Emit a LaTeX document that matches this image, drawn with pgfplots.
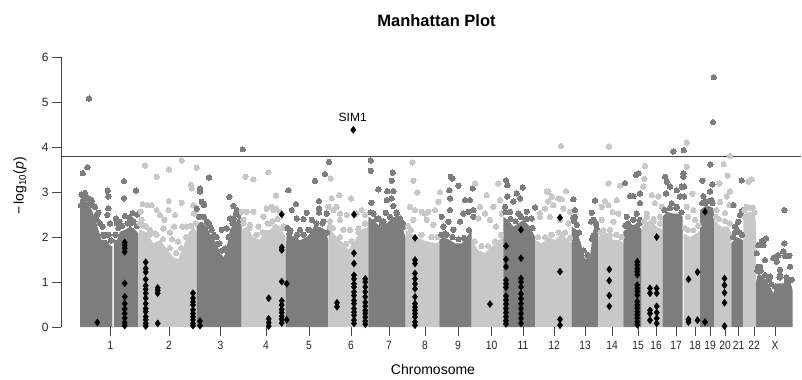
\documentclass[border=0pt]{standalone}
\usepackage{fontspec}
\setmainfont{Liberation Sans}
\newfontfamily\tickfont{Liberation Sans}[FakeStretch=0.86]
\usepackage{pgfplots}
\pgfplotsset{compat=1.18}
\definecolor{dk}{RGB}{125,125,125}
\definecolor{lt}{RGB}{200,200,200}
\definecolor{axc}{RGB}{70,70,70}
\newcommand{\chrom}[3]{%
  \addplot[draw=none, fill=#1] coordinates {#2} \closedcycle;
  \addplot[only marks, mark=*, mark size=2.7bp, color=#1, mark options={fill=#1, draw=#1, line width=0pt}] coordinates {#3};
}
\begin{document}
\begin{tikzpicture}[x=1bp,y=1bp]
\path[use as bounding box] (0,0) rectangle (802,379);
\begin{axis}[
  at={(61bp,52bp)}, anchor=south west,
  scale only axis, width=740bp, height=270bp,
  xmin=61, xmax=801, ymin=0, ymax=6,
  clip=false,
  axis x line*=bottom, axis y line*=left,
  axis line style={draw=none},
  tick align=outside, major tick length=9bp,
  tick style={draw=axc, line width=0.8bp},
  xtick={110.5,169,220.5,266,309,351,389,425,458,491.5,523,554,585,612,638,656,676,695,710,725,738.5,754,775},
  xticklabels={1,2,3,4,5,6,7,8,9,10,11,12,13,14,15,16,17,18,19,20,21,22,X},
  ytick={0,1,2,3,4,5,6},
  yticklabels={0,1,2,3,4,5,6},
  yticklabel style={font=\fontsize{12bp}{14bp}\selectfont, text=black!85},
  xticklabel style={font=\tickfont\fontsize{12bp}{14bp}\selectfont, text=black!85, yshift=-2bp},
]
% chromosome 1
\chrom{dk}{(80,0)(80,2.82)(83.3,2.93)(86.7,2.78)(91.7,2.6)(95,2.41)(98.3,2.16)(101.7,1.93)(106.7,1.93)(110,1.82)(112.4,1.79)(112.5,0)(113.8,0)(113.9,1.95)(117,1.93)(120,2.12)(125,2.16)(130,2.23)(135,2.16)(138.3,2.08)(138.3,0)}
{(82.7,3.42)(87.3,3.55)(89,5.08)(83.3,2.9)(86,2.91)(91.7,2.82)(89.3,2.75)(95,2.67)(98.3,2.54)(96.7,2.38)(102.7,2.23)(107.7,3.03)(108.3,2.9)(108.3,2.64)(107.3,2.49)(110,2.3)(104,2.02)(124,3.24)(124,2.86)(116,2.41)(119.3,2.34)(125,2.47)(129.3,2.43)(132.7,2.53)(136,3.03)(137.3,2.5)(133.3,2.34)(130,2.3)(131.7,2.15)(116.7,2.3)(118.3,2.2)(81,2.7)(84,2.6)
(81.5,2.95)(85,2.98)(88.5,2.85)(93,2.7)(97,2.5)(100,2.3)(103.5,2.05)(108.5,2.05)(111,1.92)(115.5,2.05)(122,2.25)(127.5,2.3)(133,2.35)(137,2.25)}
% chromosome 2
\chrom{lt}{(138.3,0)(138.3,2.1)(140,2.16)(146.7,2.1)(153.3,1.86)(160,1.93)(166.7,1.74)(173.3,1.55)(178.3,1.51)(183.3,1.79)(188.3,2.08)(193.3,2.23)(196.7,2.1)(196.7,0)}
{(145,3.59)(156.7,3.34)(169,3.5)(181.7,3.7)(196.7,3.54)(191,3.16)(191.7,3.08)(142.7,2.73)(147.3,2.71)(151.7,2.71)(140.7,2.56)(168.7,2.8)(181.7,2.76)(156.7,2.6)(160,2.49)(164.3,2.38)(168.3,2.6)(175,2.49)(182.3,2.23)(186.7,2.23)(174,2.23)(193.3,2.71)(196.7,2.6)(194,2.52)(141.7,2.38)(146,2.23)(150,2.16)(155,2.08)(163.3,2.19)(170,2.1)(178,1.9)(172,1.95)
(139.5,2.3)(143.5,2.25)(149.5,2.05)(156.5,2.05)(163,1.95)(170,1.75)(176,1.65)(181,1.75)(186,2.0)(191,2.25)(195.5,2.3)}
% chromosome 3
\chrom{dk}{(196.7,0)(196.7,2.3)(201.7,2.34)(206.7,2.23)(211.7,2.0)(216.7,1.86)(220,1.64)(224,1.55)(227,1.82)(230,2.16)(235,2.34)(241.5,2.38)(241.5,0)}
{(200,3.08)(200,3.01)(201.7,2.78)(203.3,2.75)(204,2.71)(196.7,2.63)(209,3.32)(203.3,2.45)(206.7,2.34)(210,2.23)(211.7,2.16)(213.3,2.0)(216.7,2.0)(219.3,1.86)(221.7,2.16)(226.7,2.19)(230,2.41)(233.3,2.41)(236,2.52)(233.3,2.38)(229.3,2.89)(233.3,2.69)(236.7,2.6)(240,2.38)(242.7,3.95)
(199,2.45)(204,2.45)(209,2.3)(214,2.05)(218,1.85)(222,1.7)(225.5,1.75)(228.5,2.0)(232.5,2.3)(238,2.5)}
% chromosome 4
\chrom{lt}{(241.5,0)(241.5,2.16)(246.7,2.23)(253.3,2.0)(260,1.93)(265,2.16)(270,2.16)(275,2.3)(280,2.23)(285.5,2.0)(285.5,0)}
{(245.3,3.34)(253.3,3.28)(268.3,3.44)(276,2.92)(241.7,2.56)(246.7,2.56)(253.3,2.56)(263.3,2.45)(266.7,2.63)(271.7,2.67)(273.3,2.6)(276,2.63)(280,2.56)(243.3,2.38)(250,2.27)(258.3,2.23)(270,2.3)(278.3,2.16)(283.3,2.23)
(243.5,2.3)(249.5,2.2)(256.5,2.05)(262.5,2.1)(267.5,2.3)(272.5,2.35)(277.5,2.4)(282.5,2.2)}
% chromosome 5
\chrom{dk}{(285.5,0)(285.5,1.64)(286.7,2.08)(293.3,2.0)(300,1.93)(306.7,2.0)(313.3,2.16)(320,2.23)(325,2.16)(328.3,1.93)(328.3,0)}
{(288.3,3.04)(296,2.73)(315,3.25)(325,3.4)(329,3.67)(319,2.8)(319,2.63)(319,2.54)(306.7,2.54)(311.7,2.38)(296.7,2.41)(291.7,2.6)(289.3,2.08)(303.3,2.4)(323.3,2.34)(326.7,2.52)(316,2.19)(300,2.16)(308.3,2.16)(290,1.93)(295,1.97)
(287.5,2.2)(290.5,2.15)(297,2.05)(303.5,2.05)(310,2.15)(316.5,2.3)(322.5,2.3)(327,2.1)}
% chromosome 6
\chrom{lt}{(328.3,0)(328.3,2.23)(336.7,2.0)(343.3,1.86)(348.3,1.71)(355,1.93)(361.7,2.16)(368.3,2.23)(368.3,0)}
{(330.7,3.3)(331.7,2.86)(339.3,2.93)(351,2.86)(328.3,2.67)(333.3,2.6)(340,2.52)(346.7,2.49)(356.7,2.52)(361.7,2.6)(365,2.49)(340,2.38)(336.7,2.67)(343.3,2.16)(350,2.16)(358.3,2.19)(330,2.23)
(330,2.35)(333,2.2)(340,2.0)(346,1.85)(351.5,1.9)(358.5,2.1)(365,2.3)}
% chromosome 7
\chrom{dk}{(368.3,0)(368.3,2.45)(373.3,2.38)(380,2.23)(386.7,2.3)(393.3,2.45)(400,2.38)(405.5,2.0)(405.5,0)}
{(370.7,3.7)(370.7,3.47)(392.7,3.43)(391.7,3.25)(378.3,3.06)(387.3,3.02)(393.3,3.02)(371.3,2.76)(385.7,2.54)(393.3,2.69)(396.7,2.39)(373.3,2.52)(378.3,2.41)(381.7,2.3)(390,2.45)(400,2.41)(403.3,2.23)(386.7,2.82)(391.7,2.86)(396.7,2.52)
(370.5,2.55)(376.5,2.4)(383.5,2.35)(390,2.45)(396.5,2.55)(403,2.3)}
% chromosome 8
\chrom{lt}{(405.5,0)(405.5,2.16)(416.7,2.0)(426.7,1.9)(436.7,1.86)(439.3,1.9)(439.3,0)}
{(412.3,3.66)(413.3,3.25)(417.3,2.99)(410,2.67)(415,2.6)(421.7,2.56)(425,2.52)(413.3,2.38)(428.3,2.56)(435,2.6)(440,3.0)(438.3,2.78)(426.7,2.38)(433.3,2.27)
(408,2.25)(411,2.15)(421.5,2.05)(431.5,2.0)(437.5,2.0)}
% chromosome 9
\chrom{dk}{(439.3,0)(439.3,1.93)(443.3,2.0)(450,1.93)(455,1.86)(461.7,1.86)(466.7,2.0)(471.7,2.16)(471.7,0)}
{(450.7,3.34)(452.3,3.3)(458.3,3.14)(449.3,3.04)(450,2.86)(472.7,3.08)(465,2.82)(470,2.82)(473.3,2.6)(473.3,2.45)(443.3,2.23)(448.3,2.34)(450,2.6)(453.3,2.16)(460,2.34)(463.3,2.52)(468.3,2.56)(441.7,2.45)(445,2.08)
(441.5,2.05)(446.5,2.05)(452.5,2.0)(458.5,1.95)(464,1.98)(469,2.15)}
% chromosome 10
\chrom{lt}{(471.7,0)(471.7,1.93)(478.3,1.71)(485,1.64)(491.7,1.79)(498.3,1.93)(503.3,2.0)(503.3,0)}
{(475,3.19)(486.7,2.93)(498.3,3.19)(493.3,2.67)(480,2.67)(485,2.52)(500,2.82)(478.3,2.41)(490,2.38)(496,2.23)(501.7,2.52)
(474.5,1.9)(481.5,1.8)(488,1.8)(495,1.9)(501,2.05)}
% chromosome 11
\chrom{dk}{(503.3,0)(503.3,2.45)(508.3,2.38)(513.3,2.23)(518.3,2.3)(523.3,2.38)(530,2.23)(535,2.0)(535,0)}
{(506,3.26)(507.3,3.15)(522.7,3.1)(516.7,2.97)(507.3,2.9)(513.3,2.79)(520,2.86)(535,2.66)(505,2.67)(510,2.56)(518.3,2.52)(526.7,2.56)(531.7,2.41)
(505.5,2.55)(510.5,2.4)(515.5,2.35)(521,2.45)(526.5,2.4)(532.5,2.2)}
% chromosome 12
\chrom{lt}{(535,0)(535,1.93)(541.7,1.86)(548.3,2.0)(555,1.93)(561.7,2.08)(568.3,1.93)(571.7,1.86)(571.7,0)}
{(561,4.02)(548.3,3.01)(566,3.02)(558.3,2.86)(545,2.63)(553.3,2.71)(563.3,2.63)(570,2.56)(540,2.45)(550,2.45)(560,2.38)(568.3,2.3)(546.7,3.01)(548.3,2.79)(561.7,2.84)(551.7,2.9)(540,2.53)
(538,2.0)(545,2.0)(551.5,2.05)(558.5,2.1)(565,2.1)(570,1.98)}
% chromosome 13
\chrom{dk}{(571.7,0)(571.7,2.23)(576.7,2.16)(581.7,1.79)(585,1.51)(590,1.56)(593.3,2.16)(598.3,2.23)(598.3,0)}
{(573.3,2.84)(595,2.81)(591.7,2.54)(573.3,2.43)(576.7,2.27)(593.3,2.38)(596.7,2.19)(575,2.6)(591,2.34)(593.3,2.04)(575,2.45)
(574,2.35)(579,2.1)(583.5,1.7)(587.5,1.6)(592,1.95)(596,2.3)}
% chromosome 14
\chrom{lt}{(598.3,0)(598.3,2.0)(606.7,2.1)(613.3,1.93)(620,1.93)(623.3,1.86)(623.3,0)}
{(609,4.01)(608.3,3.19)(620,3.14)(605,2.8)(612.7,2.55)(601.7,2.67)(608.3,2.71)(616.7,2.82)(618.3,2.52)(601.7,2.38)(613.3,2.34)(610,2.16)
(600.5,2.1)(603.5,2.15)(610,2.05)(616.5,2.05)(621.5,2.0)}
% chromosome 15
\chrom{dk}{(623.3,0)(623.3,2.12)(630,2.23)(636.7,2.3)(641.7,2.16)(641.7,0)}
{(625,3.2)(636,3.38)(638.3,3.41)(630,2.91)(633.3,2.91)(640,2.97)(640,2.75)(626.7,2.45)(630,2.23)(636.7,2.52)(640,2.38)
(625.5,2.25)(628,2.3)(633.5,2.38)(639.5,2.3)}
% chromosome 16
\chrom{lt}{(641.7,0)(641.7,2.23)(650,2.38)(656.7,2.23)(662.7,2.16)(662.7,0)}
{(645,3.58)(644.3,3.29)(643.3,3.12)(655,2.75)(651.7,2.93)(658.3,2.9)(661.7,2.67)(646.7,2.52)(653.3,2.34)(660,2.45)
(644,2.35)(647,2.45)(653.5,2.4)(660,2.3)}
% chromosome 17
\chrom{dk}{(662.7,0)(662.7,2.45)(666.7,2.56)(673.3,2.52)(680,2.52)(682.7,2.45)(682.7,0)}
{(673.3,3.9)(665,3.34)(666.7,3.23)(670,3.12)(676.7,3.04)(666,2.97)(676.7,2.67)(681.7,3.12)(680,2.9)(671.7,2.75)(683.7,3.93)(683.3,3.41)(683.3,3.34)(684,3.12)(684,2.9)
(664.5,2.6)(670,2.65)(676.5,2.65)(681.5,2.55)}
% chromosome 18
\chrom{lt}{(683.5,0)(683.5,2.08)(690,2.0)(696.7,2.08)(700,2.16)(700,0)}
{(686.7,4.1)(686.7,3.56)(692.3,2.96)(686.7,2.67)(693.3,2.6)(695,2.38)(688,2.45)
(685,2.2)(688,2.15)(693.5,2.15)(698.5,2.25)}
% chromosome 19
\chrom{dk}{(700,0)(700,2.6)(706.7,2.71)(713.3,2.64)(714,2.5)(714,0)}
{(713.7,5.55)(713,4.55)(710.3,3.61)(702.3,3.25)(712.3,3.17)(710,3.01)(703.3,2.91)(705,2.75)(711.7,2.82)
(702,2.75)(705,2.8)(709.5,2.8)(712.5,2.75)}
% chromosome 20
\chrom{lt}{(714,0)(714,2.38)(721.7,2.23)(728.3,2.23)(731.3,2.08)(731.3,0)}
{(730,3.8)(723.7,3.62)(727.7,3.36)(719.3,3.19)(730,3.01)(720,2.78)(726.7,2.9)(716.7,2.6)(725,2.53)(729.3,2.71)
(716,2.45)(719,2.4)(725,2.35)(729.5,2.3)}
% chromosome 21
\chrom{dk}{(731.3,0)(731.3,1.86)(736.7,2.0)(743.3,1.93)(743.3,0)}
{(741.7,3.26)(733.3,2.71)(740,2.49)(738.3,2.34)(735,2.23)(741.7,2.56)(743.3,2.6)(736.7,2.16)
(733,2.0)(735,2.1)(739.5,2.1)(742,2.05)}
% chromosome 22
\chrom{lt}{(743.3,0)(743.3,2.45)(745,2.52)(750,2.56)(755,2.49)(756,2.3)(756,0)}
{(748.3,3.23)(751.7,3.28)(746.7,2.67)(751.7,2.64)(745,2.45)
(744.5,2.6)(747.5,2.65)(752.5,2.65)(754.5,2.55)}
% chromosome X
\chrom{dk}{(756,0)(756,1.0)(758,1.19)(763.3,1.12)(767,1.0)(770,0.9)(773.3,0.75)(776.7,0.97)(783.3,0.97)(790,1.04)(792.7,0.8)(792.7,0)}
{(758.3,1.82)(763.3,1.9)(784.3,2.6)(784.3,1.86)(778.3,1.6)(785,1.58)(789.3,1.58)(790,1.34)(776.7,1.45)(756.7,1.64)(765,1.49)(770,1.12)(758.3,1.34)(786.7,1.04)(780,1.27)(761.7,1.91)(766,1.97)(763.3,1.82)(773.3,1.53)(783.3,1.68)(776.7,1.56)(780,1.16)(760,1.34)
(757.5,1.25)(760.5,1.25)(765,1.15)(768.5,1.05)(771.5,0.95)(775,0.9)(779.5,1.1)(786.5,1.1)(791.5,1.05)}
% highlighted SNPs
\addplot[only marks, mark=diamond*, mark size=3.6bp, mark options={fill=black, draw=black, line width=0.3bp}] coordinates {
(97.3,0.1)
(124.7,1.88)(124.7,1.82)(124.7,1.75)(124.7,1.67)(124.7,0.97)(124.7,0.67)(124.7,0.52)(124.7,0.40)(124.7,0.30)(124.7,0.20)(124.7,0.10)(124.7,0.03)
(145.7,1.44)(145.7,1.30)(145.7,1.22)(145.7,1.06)(145.7,0.92)(145.7,0.84)(145.7,0.75)(145.7,0.64)(145.7,0.52)(145.7,0.41)(145.7,0.34)(145.7,0.23)(145.7,0.16)(145.7,0.08)(145.7,0.02)
(157.7,0.87)(157.7,0.81)(157.7,0.75)(157.7,0.08)
(193,0.75)(193,0.64)(193,0.56)(193,0.49)(193,0.38)(193,0.30)(193,0.23)(193,0.16)(193,0.08)(193,0.03)
(200,0.13)(200,0.03)
(268.7,0.64)(268.7,0.18)(268.7,0.10)(268.7,0.02)
(281.7,2.50)(281.7,1.77)(281.7,1.71)(281.7,1.01)(281.7,0.58)(281.7,0.49)(281.7,0.39)(281.7,0.32)(281.7,0.24)(281.7,0.17)(281.7,0.09)
(286.7,0.96)(286.7,0.16)
(337,0.54)(337,0.45)
(353.3,4.38)
(354,2.50)(354,1.64)(354,1.41)(354,1.15)(354,1.07)(354,0.96)(354,0.89)(354,0.78)(354,0.70)(354,0.59)(354,0.52)(354,0.41)(354,0.33)(354,0.26)(354,0.15)(354,0.08)
(365.3,1.07)(365.3,1.00)(365.3,0.89)(365.3,0.78)(365.3,0.67)(365.3,0.55)(365.3,0.46)(365.3,0.37)(365.3,0.30)(365.3,0.22)(365.3,0.13)(365.3,0.06)
(415,1.98)(415,1.49)(415,1.41)(415,1.19)(415,1.07)(415,0.96)(415,0.85)(415,0.67)(415,0.52)(415,0.44)(415,0.37)(415,0.30)(415,0.22)(415,0.11)(415,0.04)
(490,0.51)
(506,1.80)(506,1.50)(506,1.34)(506,1.04)(506,0.96)(506,0.88)(506,0.69)(506,0.60)(506,0.51)(506,0.41)(506,0.32)(506,0.23)(506,0.14)(506,0.07)
(521,2.16)(521,1.53)(521,1.08)(521,1.00)(521,0.89)(521,0.74)(521,0.63)(521,0.52)(521,0.41)(521,0.30)(521,0.19)(521,0.08)
(560,2.43)(560,1.23)(560,0.17)(560,0.04)
(609.3,1.28)(609.3,1.03)(609.3,0.70)(609.3,0.46)
(637.3,1.45)(637.3,1.38)(637.3,1.30)(637.3,1.23)(637.3,1.16)(637.3,0.93)(637.3,0.86)(637.3,0.79)(637.3,0.71)(637.3,0.57)(637.3,0.49)(637.3,0.42)(637.3,0.34)(637.3,0.27)(637.3,0.20)(637.3,0.12)(637.3,0.05)
(650,0.86)(650,0.75)(650,0.37)(650,0.30)(650,0.15)
(656.7,2.0)(656.7,0.86)(656.7,0.75)(656.7,0.46)(656.7,0.32)(656.7,0.19)(656.7,0.08)
(688.5,1.06)(688.5,0.17)(688.5,0.11)
(697.5,1.22)(697.5,0.15)
(705,2.56)(705,0.11)
(724.5,1.08)(724.5,0.93)(724.5,0.76)(724.5,0.54)(724.5,0.02)
};
% threshold line
\addplot[axc, line width=1bp] coordinates {(61,3.79) (801,3.79)};
% y axis line
\addplot[axc, line width=0.8bp] coordinates {(61,0) (61,6)};
\node[font=\fontsize{12bp}{14bp}\selectfont] at (axis cs:352.7,4.65) {SIM1};
\end{axis}
\node[font=\bfseries\fontsize{16.5bp}{19bp}\selectfont, anchor=base] at (436.5,352.3) {Manhattan Plot};
\node[font=\fontsize{14bp}{16bp}\selectfont, anchor=base] at (433,4.5) {Chromosome};
\node[font=\fontsize{14bp}{16bp}\selectfont, rotate=90] at (20,193) {\symbol{"2212}\hspace{2.5bp}log\textsubscript{10}(\textit{p})};
\end{tikzpicture}
\end{document}
